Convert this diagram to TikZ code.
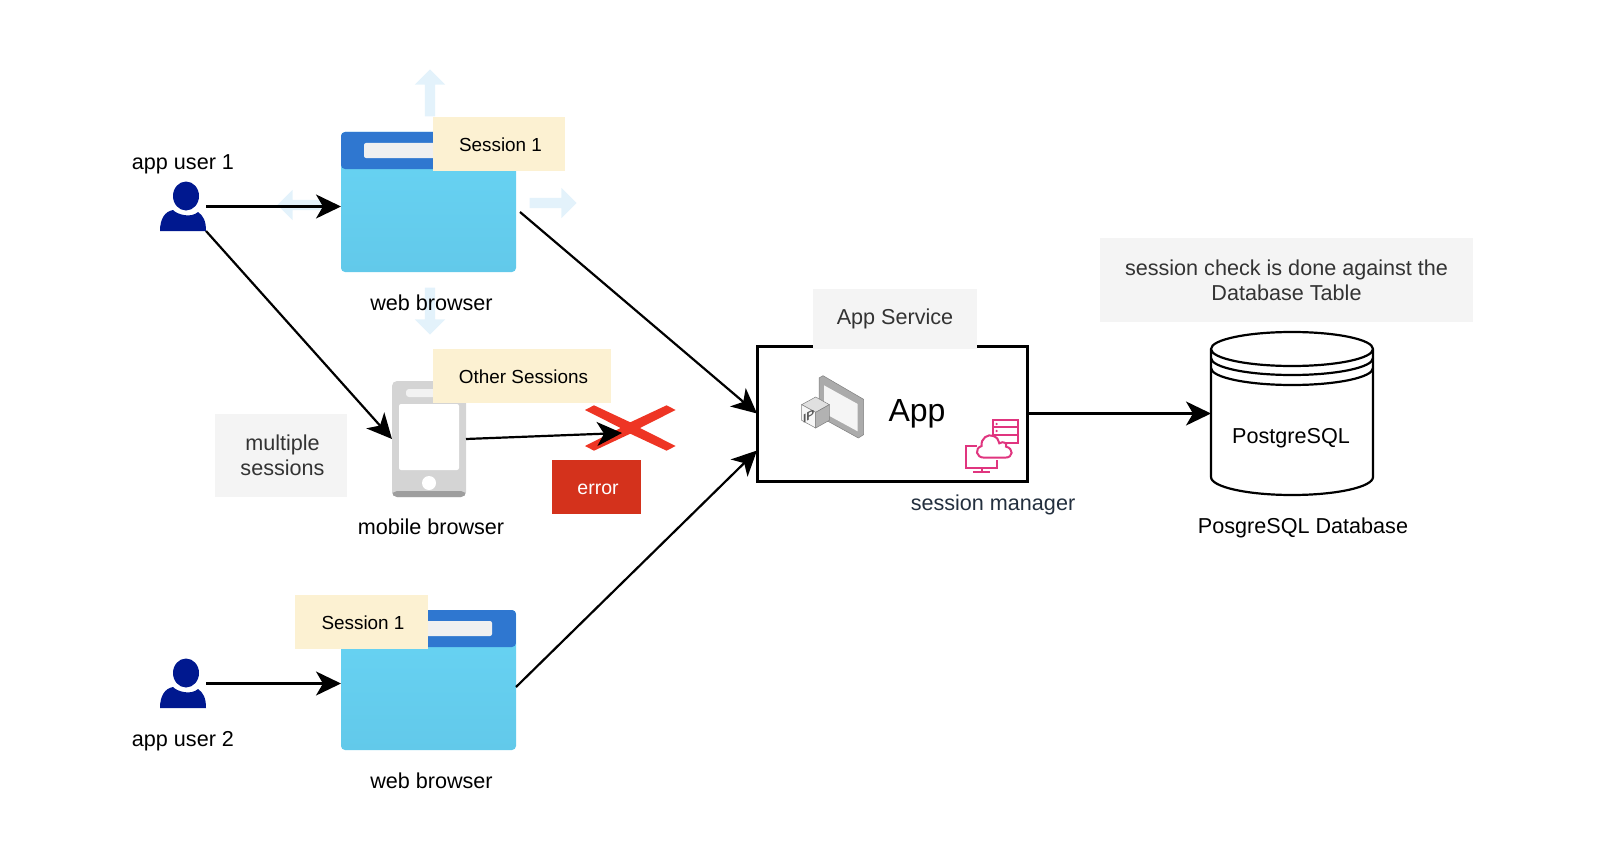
\documentclass[tikz,border=0pt]{standalone}
\usepackage{fontspec}
\setmainfont{Liberation Sans}
\usetikzlibrary{arrows.meta, positioning, shapes.arrows}
\definecolor{barblue}{HTML}{2F77D0}
\definecolor{winblue}{HTML}{68D4F4}
\definecolor{winbluem}{HTML}{66D1F2}
\definecolor{winblueb}{HTML}{62C9EA}
\definecolor{faintblue}{HTML}{E3F2FB}
\definecolor{noteyellow}{HTML}{FCF1D2}
\definecolor{notegray}{HTML}{F4F4F4}
\definecolor{usernavy}{HTML}{00188F}
\definecolor{errorred}{HTML}{D4321C}
\definecolor{crossred}{HTML}{EE3524}
\definecolor{inkslate}{HTML}{232F3E}
\definecolor{iconpink}{HTML}{E0357F}

\begin{document}
\begin{tikzpicture}[
  x=1pt, y=-1pt,
  every node/.style={inner sep=0pt, outer sep=0pt},
  label/.style={font=\fontsize{21.6}{25}\selectfont, align=center},
  note/.style={font=\fontsize{18.9}{22}\selectfont, fill=noteyellow, minimum height=54pt,
    text height=16pt, text depth=1.2pt, execute at begin node={\hspace*{3pt}}},
  graynote/.style={label, text=black!80, fill=notegray},
  arrow/.style={-{Stealth[length=25pt, width=24pt, inset=7pt]}, line width=2.2pt},
  faint/.style={single arrow, fill=faintblue, minimum height=47pt, inner sep=5pt,
    single arrow head extend=10pt, single arrow head indent=0pt},
  browserwin/.style={minimum width=175pt, minimum height=140pt, rounded corners=4pt,
    top color=winblue, middle color=winbluem, bottom color=winblueb, path picture={
      \fill[barblue] (path picture bounding box.north west) rectangle
        ([yshift=-37pt]path picture bounding box.north east);
      \fill[black!6, rounded corners=2pt] ([shift={(23pt,-11pt)}]path picture bounding box.north west)
        rectangle ([shift={(-24pt,-26pt)}]path picture bounding box.north east);
    }},
  phonebody/.style={minimum width=74pt, minimum height=116pt, fill=black!17, rounded corners=5pt,
    path picture={
      \fill[black!38] ([yshift=6pt]path picture bounding box.south west) rectangle
        (path picture bounding box.south east);
      \fill[white, rounded corners=2pt] ([shift={(7pt,-23pt)}]path picture bounding box.north west)
        rectangle ([shift={(-7pt,-89pt)}]path picture bounding box.north east);
      \fill[black!5, rounded corners=3pt] ([shift={(14pt,-8pt)}]path picture bounding box.north west)
        rectangle ([shift={(-14pt,-16pt)}]path picture bounding box.north east);
      \fill[white] ([yshift=14pt]path picture bounding box.south) circle (7pt);
    }},
  usernode/.style={minimum width=46pt, minimum height=49pt},
  usericon/.pic={
    \fill[usernavy] (3,-10.5) ellipse [x radius=13pt, y radius=14.5pt];
    \fill[usernavy] (-23,24.5) .. controls (-23,12) and (-18,5) .. (-10,3.5)
      .. controls (-6,8) and (8,12) .. (15,5.5) .. controls (20,9) and (23,14) .. (23,24.5) -- cycle;
  }
]
  \useasboundingbox (0,0) rectangle (1598,864);

  % faint arrows behind the first window
  \node[faint, rotate=90] (faintup) at (430,95.5) {};
  \node[faint] (faintright) at (550.5,203) {};
  \node[faint, rotate=180] (faintleft) at (303.5,205) {};
  \node[faint, rotate=-90] (faintdown) at (430,308.5) {};

  % users
  \node[usernode] (userA) at (183,206.5) {};
  \pic at (userA.center) {usericon};
  \node[label, above=8pt of userA] (userAtxt) {app user 1};
  \node[usernode] (userB) at (183,683.5) {};
  \pic at (userB.center) {usericon};
  \node[label, below=23pt of userB] (userBtxt) {app user 2};

  % browsers and phone
  \node[browserwin] (browserA) at (428.5,202) {};
  \node[label, below=23pt of browserA, xshift=3pt] (browserAtxt) {web browser};
  \node[note, minimum width=132pt] (sessionA) at (499,144) {Session 1};

  \node[phonebody] (phone) at (429,439) {};
  \node[label, below=22pt of phone, xshift=2pt] (phonetxt) {mobile browser};
  \node[note, minimum width=178pt] (sessionO) at (522,376) {Other Sessions};

  \node[browserwin] (browserB) at (428.5,680) {};
  \node[label, below=23pt of browserB, xshift=3pt] (browserBtxt) {web browser};
  \node[note, minimum width=133pt] (sessionB) at (361.5,622) {Session 1};

  \node[graynote, minimum width=132pt, minimum height=83pt] (multi) at (281,455.5) {\hspace*{3pt}multiple\\\hspace*{3pt}sessions};

  % red cross and error
  \begin{scope}[shift={(630.3,428)}]
    \fill[crossred] (-36.3,-22.7) -- (0,-5.7) -- (36.3,-22.7) -- (45.3,-18) -- (9.7,0) -- (45.3,18)
      -- (36.3,22.7) -- (0,5.7) -- (-36.3,22.7) -- (-45.3,18) -- (-9.7,0) -- (-45.3,-18) -- cycle;
  \end{scope}
  \coordinate (crosshit) at (622,433);
  \node[note, fill=errorred, text=white, minimum width=89pt, font=\fontsize{19.5}{22}\selectfont] (errbox) at (596.5,487) {error};

  % app service
  \node[draw, fill=white, line width=3pt, minimum width=270pt, minimum height=135pt] (app) at (892,413.5) {};
  \node[graynote, minimum width=164pt, minimum height=60pt] (appsvc) at (895,319) {App Service};
  \node[font=\fontsize{32}{36}\selectfont] (apptxt) at (917,414) {App};
  \node[label, text=inkslate] (sessmgr) at (993,505) {session manager};

  % ip icon
  \begin{scope}[shift={(795,368)}, x=0.3333pt, y=-0.3333pt, draw=black!50, line width=0.5pt]
    \filldraw[fill=black!33] (72,30) -- (84,23) -- (206,94) -- (206,200) -- (190,210) -- (72,145) -- cycle;
    \fill[black!4] (87,52) -- (188,108) -- (188,190) -- (87,135) -- cycle;
    \filldraw[fill=black!12] (62,87) -- (103,110) -- (62,133) -- (20,110) -- cycle;
    \filldraw[fill=black!3] (20,110) -- (62,133) -- (62,180) -- (20,157) -- cycle;
    \filldraw[fill=black!30] (103,110) -- (103,157) -- (62,180) -- (62,133) -- cycle;
    \node[font=\bfseries\fontsize{12}{12}\selectfont, text=black!65, yslant=0.5] (iptxt) at (41,146) {IP};
  \end{scope}

  % session manager icon
  \begin{scope}[shift={(955,410)}, x=0.3333pt, y=-0.3333pt, draw=iconpink, line width=2pt]
    \draw (113,30) rectangle (190,98);
    \draw (113,52) -- (190,52) (113,75) -- (190,75);
    \fill[iconpink] (125,42) circle (1.2pt) (125,63) circle (1.2pt);
    \draw[fill=white] (65,107) -- (33,107) -- (33,175) -- (125,175) -- (125,150);
    \draw (80,175) -- (80,187) (55,187) -- (105,187);
    \draw[fill=white] (88,143) .. controls (62,143) and (58,115) .. (80,108)
      .. controls (76,85) and (100,70) .. (115,78) .. controls (125,81) and (132,90) .. (133,100)
      .. controls (145,92) and (158,100) .. (153,110) .. controls (176,115) and (176,143) .. (150,143) -- cycle;
  \end{scope}

  % database
  \node[minimum width=162pt, minimum height=163pt] (pgdb) at (1292,413.5) {};
  \draw[line width=2.2pt] (1211,349) -- (1211,477) arc[start angle=180, end angle=360, x radius=81pt, y radius=18pt]
    -- (1373,349) arc[start angle=0, end angle=180, x radius=81pt, y radius=17pt]
    arc[start angle=180, end angle=360, x radius=81pt, y radius=17pt];
  \draw[line width=2.2pt] (1211,358) arc[start angle=180, end angle=360, x radius=81pt, y radius=17pt];
  \draw[line width=2.2pt] (1211,368) arc[start angle=180, end angle=360, x radius=81pt, y radius=17pt];
  \node[label] (pgtxt) at (1291,438) {PostgreSQL};
  \node[label] (pgcaption) at (1303,528) {PosgreSQL Database};
  \node[graynote, minimum width=373pt, minimum height=84pt] (sesscheck) at (1286.5,280) {session check is done against the\\Database Table};

  % connectors
  \draw[arrow] (userA.east) -- (userA.east -| browserA.west);
  \draw[arrow] (userA.south east) -- (phone.west);
  \draw[arrow] (userB.east) -- (userB.east -| browserB.west);
  \draw[arrow] (phone.east) -- (crosshit);
  \draw[arrow] ([shift={(4,10)}]browserA.east) -- (app.west);
  \draw[arrow] ([shift={(0,7)}]browserB.east) -- ([shift={(0,37)}]app.west);
  \draw[arrow] (app.east) -- (pgdb.west);
\end{tikzpicture}
\end{document}
